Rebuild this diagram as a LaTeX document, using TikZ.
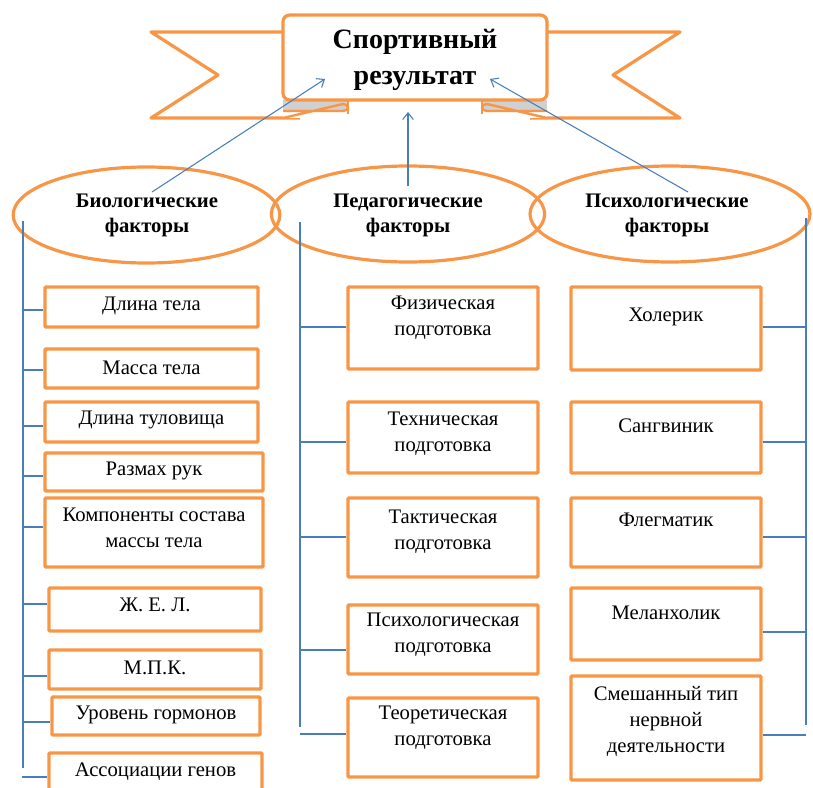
\documentclass[tikz,border=0pt]{standalone}
\usepackage{fontspec}
\setmainfont{Liberation Serif}
\usetikzlibrary{shapes.geometric,fit,arrows.meta}
\definecolor{orng}{HTML}{F79646}
\definecolor{conn}{HTML}{4A7EBB}
\definecolor{foldg}{HTML}{D0D0D0}
\tikzset{
  box/.style={draw=orng, line width=2.6pt, inner sep=0pt, rounded corners=0.8pt},
  txt/.style={font=\fontsize{15.5}{19.5}\selectfont, align=center, inner sep=0pt},
  oval/.style={ellipse, draw=orng, line width=2.4pt, inner sep=0pt},
  otxt/.style={font=\fontsize{15.5}{18.75}\selectfont\bfseries, align=center, inner sep=0pt},
  link/.style={draw=conn, line width=0.8pt},
  arr/.style={link, -{Straight Barb[length=5pt,width=8pt]}},
  ribbon/.style={draw=orng, line width=2.4pt, line join=round},
  fold/.style={draw=orng, line width=1.8pt, line join=round},
}
\newcommand\mkbox[7]{%
  \node[box, fit={(#2,#3)(#4,#5)}] (#1) {};
  \node[txt] (#1t) at ({(#2+#4)/2},#6) {#7};}
\begin{document}
\begin{tikzpicture}[x=0.75pt,y=-0.75pt]
\useasboundingbox (0,0) rectangle (813,788);
% ---------- banner ----------
\draw[ribbon, fill=white] (300,32) -- (151,32) -- (218,75) -- (151,118) -- (300,118);
\draw[ribbon, fill=white] (530,32) -- (680,32) -- (613,75) -- (680,118) -- (530,118);
% left fold
\fill[foldg] (283,100) rectangle (348,111);
\fill[white] (283,111) rectangle (343,118);
\draw[fold] (283,111) -- (343,111) arc[start angle=90,end angle=-90,x radius=5,y radius=3.5] -- (283,118);
\draw[fold] (348,100) -- (348,114);
% right fold
\fill[foldg] (482,100) rectangle (547,111);
\fill[white] (487,111) rectangle (547,118);
\draw[fold] (547,111) -- (487,111) arc[start angle=90,end angle=270,x radius=5,y radius=3.5] -- (547,118);
\draw[fold] (482,100) -- (482,114);
% box
\node[draw=orng, line width=2.4pt, fill=white, rounded corners=5pt, inner sep=0pt,
      fit={(283,15)(547,100)}] (title) {};
\node[font=\fontsize{21}{27}\selectfont\bfseries, align=center, inner sep=0pt] (titlet) at (415,60)
  {Спортивный\\результат};
% ---------- ellipses ----------
\node[oval, minimum width=200pt, minimum height=72pt] (e1) at (146.5,215) {};
\node[oval, minimum width=205pt, minimum height=72pt] (e2) at (408,214) {};
\node[oval, minimum width=210pt, minimum height=72pt] (e3) at (670,214) {};
\node[otxt] (e1t) at (147,215.5) {Биологические\\факторы};
\node[otxt] (e2t) at (408,215.5) {Педагогические\\факторы};
\node[otxt] (e3t) at (667,215.5) {Психологические\\факторы};
% ---------- arrows to title ----------
\coordinate (s1) at (152,192); \coordinate (t1) at (325,79);
\coordinate (s2) at (408,186); \coordinate (t2) at (408,112);
\coordinate (s3) at (688,192); \coordinate (t3) at (490,79);
\draw[arr] (s1) -- (t1);
\draw[arr] (s2) -- (t2);
\draw[arr] (s3) -- (t3);
% ---------- left column ----------
\mkbox{b1}{45}{287}{258}{327}{306}{Длина тела}
\mkbox{b2}{45}{349}{258}{388}{368}{Масса тела}
\mkbox{b3}{45}{402}{258}{442}{420}{Длина туловища}
\mkbox{b4}{45}{453}{263}{491}{471}{Размах рук}
\mkbox{b5}{45}{498}{263}{567}{528}{Компоненты состава\\массы тела}
\mkbox{b6}{49}{588}{261}{631}{605}{Ж. Е. Л.}
\mkbox{b7}{49}{650}{261}{689}{668}{М.П.К.}
\mkbox{b8}{52}{697}{260}{735}{715}{Уровень гормонов}
\mkbox{b9}{49}{753}{262}{805}{772}{Ассоциации генов}
% ---------- middle column ----------
\mkbox{m1}{348}{287}{538}{369}{318}{Физическая\\подготовка}
\mkbox{m2}{348}{402}{538}{473}{434}{Техническая\\подготовка}
\mkbox{m3}{348}{498}{538}{577}{532}{Тактическая\\подготовка}
\mkbox{m4}{348}{605}{538}{674}{635}{Психологическая\\подготовка}
\mkbox{m5}{348}{698}{538}{777}{728}{Теоретическая\\подготовка}
% ---------- right column ----------
\mkbox{r1}{571}{287}{761}{370}{317}{Холерик}
\mkbox{r2}{571}{402}{761}{473}{426}{Сангвиник}
\mkbox{r3}{571}{498}{761}{567}{520}{Флегматик}
\mkbox{r4}{571}{588}{761}{660}{613}{Меланхолик}
\mkbox{r5}{571}{676}{761}{780}{721}{Смешанный тип\\нервной\\деятельности}
% ---------- trunks ----------
\coordinate (lt) at (23,221); \coordinate (lb) at (23,768);
\coordinate (mt) at (300,222); \coordinate (mb) at (300,727);
\coordinate (rt) at (806,218); \coordinate (rb) at (806,725);
\draw[link] (lt) -- (lb);
\draw[link] (mt) -- (mb);
\draw[link] (rt) -- (rb);
\foreach \n/\y in {b1/310,b2/370,b3/426,b4/476,b5/527,b6/604,b7/676,b8/722}
  \draw[link] (lt |- 0,\y) -- (\n.west |- 0,\y);
\coordinate (lx) at (22,777);
\draw[link] (lx) -- (b9.west |- lx);
\foreach \n/\y in {m1/327,m2/442,m3/537,m4/650,m5/734}
  \draw[link] (mt |- 0,\y) -- (\n.west |- 0,\y);
\foreach \n/\y in {r1/327,r2/442,r3/537,r4/632,r5/735}
  \draw[link] (\n.east |- 0,\y) -- (rt |- 0,\y);
\end{tikzpicture}
\end{document}
